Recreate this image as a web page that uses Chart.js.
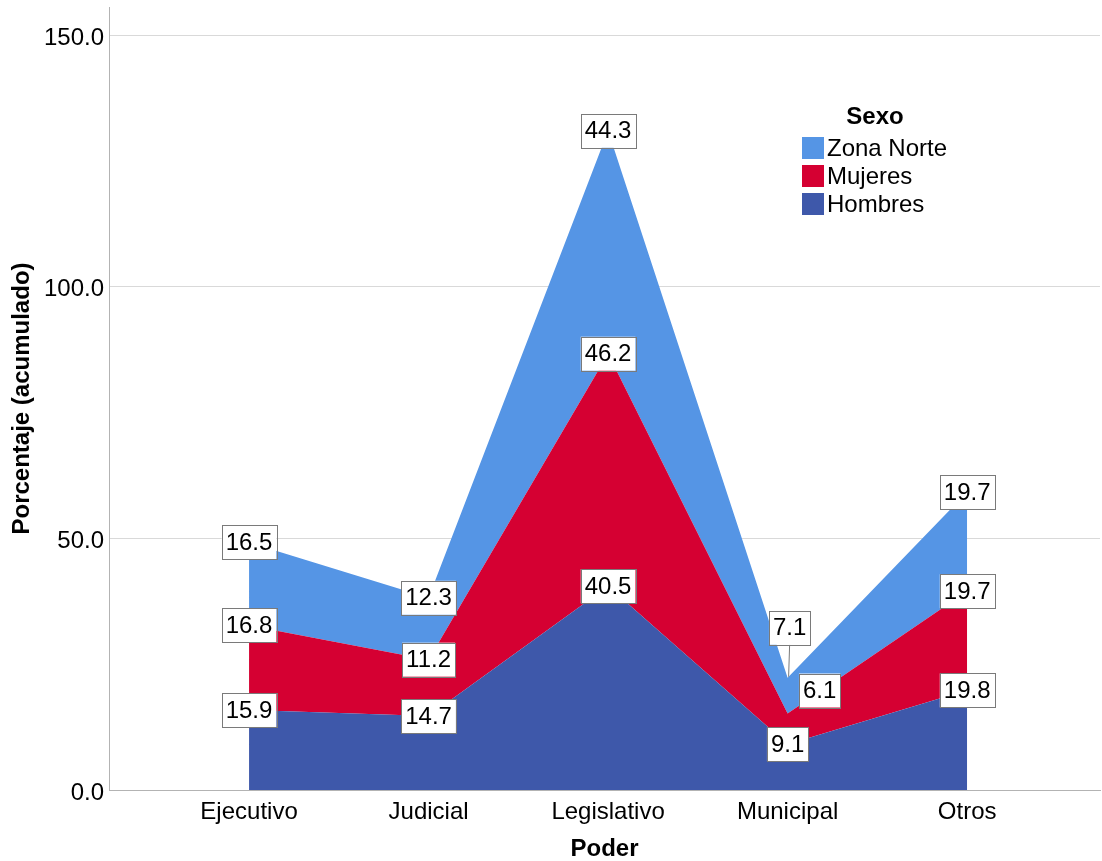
<!DOCTYPE html>
<html>
<head>
<meta charset="utf-8">
<script src="https://cdn.jsdelivr.net/npm/chart.js@4"></script>
<style>
  body { margin: 0; background: #fff; }
  #wrap { width: 1102px; height: 861px; }
</style>
</head>
<body>
<div id="wrap"><canvas id="grafico" width="1102" height="861"></canvas></div>
<script>
// datos
var categorias = ['Ejecutivo', 'Judicial', 'Legislativo', 'Municipal', 'Otros'];
var hombres = [15.9, 14.7, 40.5, 9.1, 19.8];
var mujeres = [16.8, 11.2, 46.2, 6.1, 19.7];
var zonaNorte = [16.5, 12.3, 44.3, 7.1, 19.7];
var ticksY = [0, 50, 100, 150];

var fuente = "'Liberation Sans', Arial, sans-serif";
var cHombres = '#3e58aa';
var cMujeres = '#d50032';
var cNorte = '#5595e5';

function puntos(arr) {
    return arr.map(function (v, i) { return { x: i, y: v }; });
}

// desplazamiento de etiquetas que se pisan (Municipal)
var desplaz = {
    'Zona Norte': { 3: [2, -50] },
    'Mujeres': { 3: [32, -23] }
};

var etiquetas = {
    id: 'etiquetas',
    afterDatasetsDraw: function (chart) {
        var ctx = chart.ctx;
        ctx.save();
        ctx.font = '24px ' + fuente;
        ctx.textAlign = 'center';
        ctx.textBaseline = 'middle';
        chart.data.datasets.forEach(function (ds, di) {
            var meta = chart.getDatasetMeta(di);
            meta.data.forEach(function (p, i) {
                var txt = ds.data[i].y.toFixed(1);
                var d = (desplaz[ds.label] || {})[i] || [0, 0];
                var x = p.x + d[0], y = p.y + d[1];
                var w = ctx.measureText(txt).width + 8, h = 34;
                if (d[1] < -30) {
                    ctx.strokeStyle = '#7a7a7a';
                    ctx.lineWidth = 1;
                    ctx.beginPath();
                    ctx.moveTo(x, y + h / 2);
                    ctx.lineTo(p.x + 1, p.y - 1);
                    ctx.stroke();
                }
                ctx.fillStyle = '#ffffff';
                ctx.fillRect(x - w / 2, y - h / 2, w, h);
                ctx.strokeStyle = '#7a7a7a';
                ctx.lineWidth = 1;
                ctx.strokeRect(Math.round(x - w / 2) + 0.5, Math.round(y - h / 2) + 0.5, Math.round(w), h);
                ctx.fillStyle = '#000000';
                ctx.fillText(txt, x, y + 1);
            });
        });
        ctx.restore();
    }
};

var leyenda = {
    id: 'leyenda',
    afterDraw: function (chart) {
        var ctx = chart.ctx;
        ctx.save();
        ctx.textBaseline = 'middle';
        ctx.fillStyle = '#000';
        ctx.font = 'bold 24px ' + fuente;
        ctx.textAlign = 'center';
        ctx.fillText('Sexo', 875, 117);
        ctx.font = '24px ' + fuente;
        ctx.textAlign = 'left';
        var ds = chart.data.datasets.slice().reverse();
        ds.forEach(function (d, i) {
            var y = 148 + i * 28;
            ctx.fillStyle = d.backgroundColor;
            ctx.fillRect(802, y - 11, 22, 22);
            ctx.fillStyle = '#000';
            ctx.fillText(d.label, 827, y + 1);
        });
        ctx.restore();
    }
};

var ctx1 = document.getElementById('grafico').getContext('2d');
var grafico = new Chart(ctx1, {
    type: 'line',
    data: {
        datasets: [{
            label: 'Hombres',
            data: puntos(hombres),
            backgroundColor: cHombres,
            borderColor: cHombres,
            fill: 'origin'
        },
        {
            label: 'Mujeres',
            data: puntos(mujeres),
            backgroundColor: cMujeres,
            borderColor: cMujeres,
            fill: '-1'
        },
        {
            label: 'Zona Norte',
            data: puntos(zonaNorte),
            backgroundColor: cNorte,
            borderColor: cNorte,
            fill: '-1'
        }]
    },
    options: {
        responsive: false,
        animation: false,
        layout: { padding: { top: 7, right: 2, left: 0, bottom: 0 } },
        elements: {
            line: { borderWidth: 0, tension: 0 },
            point: { radius: 0, hoverRadius: 0 }
        },
        plugins: {
            legend: { display: false },
            tooltip: { enabled: false }
        },
        scales: {
            x: {
                type: 'linear',
                min: -0.78,
                max: 4.74,
                grid: { display: false },
                border: { color: '#b3b3b3' },
                afterBuildTicks: function (s) {
                    s.ticks = categorias.map(function (c, i) { return { value: i }; });
                },
                afterFit: function (s) { s.height = 71; s.paddingLeft = 0; s.paddingRight = 0; },
                ticks: {
                    padding: 0,
                    color: '#000',
                    font: { family: fuente, size: 24 },
                    callback: function (v) { return categorias[v]; }
                },
                title: {
                    display: true,
                    text: 'Poder',
                    color: '#000',
                    padding: { top: 0, bottom: 0 },
                    font: { family: fuente, size: 24, weight: 'bold', lineHeight: 1 }
                }
            },
            y: {
                stacked: true,
                min: 0,
                max: 155.6,
                border: { color: '#b3b3b3' },
                grid: { color: '#d9d9d9', drawTicks: false },
                afterBuildTicks: function (s) {
                    s.ticks = ticksY.map(function (v) { return { value: v }; });
                },
                afterFit: function (s) { s.width = 109; s.paddingTop = 0; s.paddingBottom = 0; },
                ticks: {
                    padding: 5,
                    labelOffset: 3,
                    color: '#000',
                    font: { family: fuente, size: 24 },
                    callback: function (v) { return v.toFixed(1); }
                },
                title: {
                    display: true,
                    text: 'Porcentaje (acumulado)',
                    color: '#000',
                    padding: { top: 8, bottom: 0 },
                    font: { family: fuente, size: 24, weight: 'bold' }
                }
            }
        }
    },
    plugins: [etiquetas, leyenda]
});
</script>
</body>
</html>
